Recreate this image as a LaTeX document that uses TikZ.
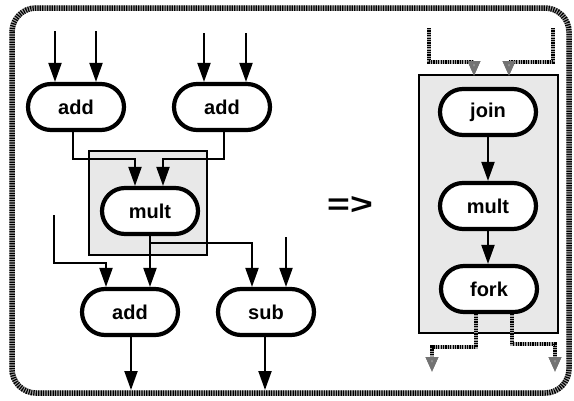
\documentclass[tikz,border=0pt]{standalone}
\usepackage{fontspec}
\setmainfont{Liberation Sans}
\usetikzlibrary{shapes.misc,arrows.meta}

\begin{document}
\begin{tikzpicture}[x=1pt,y=-1pt,
  op/.style={rounded rectangle, draw, line width=4.2pt, fill=white,
    minimum width=96pt, minimum height=46pt, inner sep=0pt,
    font=\fontsize{20}{20}\selectfont\bfseries},
  wire/.style={line width=2.1pt, -{Triangle[length=19pt,width=13pt]}},
  halftone/.style={line width=3.4pt, draw=black, dash pattern=on 1.2pt off 1.2pt,
    preaction={draw=black!35, line width=3.4pt}},
  htwire/.style={halftone, -{Triangle[length=15pt,width=12pt,color=black!55,fill=black!40]}},
  region/.style={draw, line width=1.4pt, fill=black!9}]
\useasboundingbox (0,0) rectangle (574,400);

% outer frame
\draw[line width=5.5pt, draw=black!35, rounded corners=24pt] (12,8) rectangle (569,393);
\draw[line width=5.5pt, draw=black, dash pattern=on 1.2pt off 1.2pt, rounded corners=24pt] (12,8) rectangle (569,393);

% shaded regions
\draw[region] (89,151) rectangle (207,255);
\draw[region] (419,75) rectangle (558,333);

% operator nodes, left graph
\node[op] (a1) at (76,107) {add};
\node[op] (a2) at (222,107) {add};
\node[op] (m)  at (150,211) {mult};
\node[op] (a3) at (130,312) {add};
\node[op] (s)  at (266,312) {sub};

% operator nodes, right graph
\node[op] (j)  at (488,112) {join};
\node[op] (m2) at (488,206) {mult};
\node[op] (f)  at (489,289) {fork};

% free ends
\coordinate (i1) at (55,31);
\coordinate (i2) at (96,31);
\coordinate (i3) at (204,33);
\coordinate (i4) at (246,33);
\coordinate (i5) at (54,215);
\coordinate (i6) at (286,237);
\coordinate (o1) at (131,390);
\coordinate (o2) at (265,390);

% inputs
\draw[wire] (i1) -- (i1 |- a1.north);
\draw[wire] (i2) -- (i2 |- a1.north);
\draw[wire] (i3) -- (i3 |- a2.north);
\draw[wire] (i4) -- (i4 |- a2.north);

% adds into mult
\draw[wire] ([xshift=-3pt]a1.south) |- ([xshift=-15pt,yshift=27pt]m.north) -- ([xshift=-15pt]m.north);
\draw[wire] ([xshift=2pt]a2.south) |- ([xshift=13pt,yshift=27pt]m.north) -- ([xshift=13pt]m.north);

% mult outputs
\draw[wire] (m.south) -- (m.south |- a3.north);
\draw[wire] (m.south) -- ([yshift=-7pt]m.south) -| ([xshift=-14pt]s.north);
\draw[wire] (i5) |- ([xshift=-24pt,yshift=24pt]a3.north) -- ([xshift=-24pt]a3.north);
\draw[wire] (i6) -- (i6 |- s.north);

% outputs
\draw[wire] (a3.south -| o1) -- (o1);
\draw[wire] (s.south -| o2) -- (o2);

% right graph
\draw[wire] (j.south) -- (m2.north);
\draw[wire] (m2.south) -- (m2.south |- f.north);

\coordinate (t1) at (429,28);
\coordinate (t2) at (553,28);
\coordinate (b1) at (432,372);
\coordinate (b2) at (555,372);
\draw[htwire] (t1) |- (474,62) -- (474,76);
\draw[htwire] (t2) |- (509,62) -- (509,76);
\draw[htwire] ([xshift=-13pt]f.south) -- ++(0,33) -| (b1);
\draw[htwire] ([xshift=23pt]f.south) -- ++(0,30) -| (b2);

% transformation sign
\node[font=\fontsize{30}{30}\selectfont\bfseries, xscale=1.3] (arrow) at (350,205) {=>};
\end{tikzpicture}
\end{document}
